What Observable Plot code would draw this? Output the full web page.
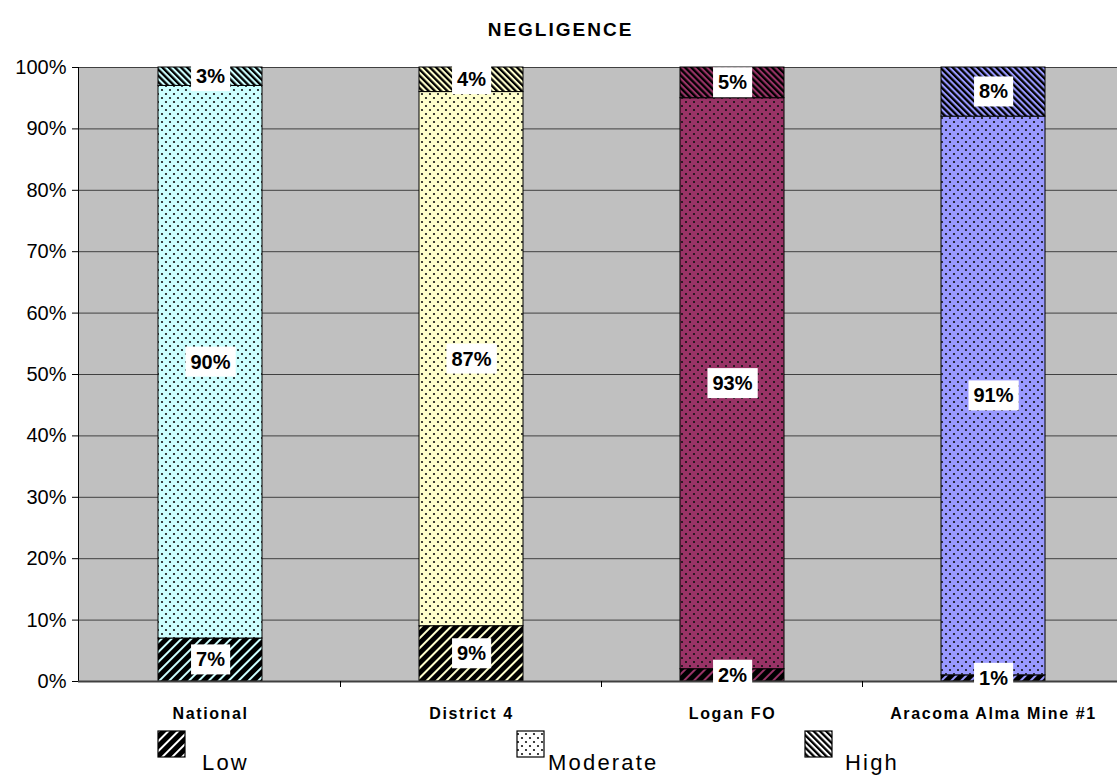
<!DOCTYPE html>
<html><head><meta charset="utf-8">
<script src="https://cdn.jsdelivr.net/npm/d3@7"></script>
<script src="https://cdn.jsdelivr.net/npm/@observablehq/plot@0.6"></script>
<style>
body{margin:0;background:#fff;font-family:"Liberation Sans",Arial,sans-serif;}
#wrap{position:relative;width:1117px;height:775px;overflow:hidden;}
#title{position:absolute;top:19px;left:2px;width:1117px;text-align:center;font-weight:bold;font-size:19px;letter-spacing:2px;}
#chart{position:absolute;top:0;left:0;}
</style></head><body>
<div id="wrap"><div id="chart"></div><div id="title">NEGLIGENCE</div></div>
<script>
const categories = ["National", "District 4", "Logan FO", "Aracoma Alma Mine #1"];
const levels = ["Low", "Moderate", "High"];
const lowValues = [7, 9, 2, 1];
const moderateValues = [90, 87, 93, 91];
const highValues = [3, 4, 5, 8];
const barColors = ["#CCFFFF", "#FFFFCC", "#993366", "#9999FF"];
const yTicks = [0, 10, 20, 30, 40, 50, 60, 70, 80, 90, 100];

const seriesByLevel = {Low: lowValues, Moderate: moderateValues, High: highValues};
const rows = [];
categories.forEach((c, i) => {
  levels.forEach(l => rows.push({category: c, level: l, value: seriesByLevel[l][i], color: barColors[i]}));
});

const FONT = '"Liberation Sans", Arial, sans-serif';

const plot = Plot.plot({
  width: 1117, height: 775,
  marginTop: 67, marginBottom: 94, marginLeft: 78, marginRight: 0,
  style: {fontFamily: FONT, background: "transparent", color: "#000"},
  x: {domain: categories, range: [79, 1124], paddingInner: 0.6, paddingOuter: 0.3, align: 0.5, label: null},
  y: {domain: [0, 100], label: null},
  color: {type: "identity"},
  marks: [
    Plot.frame({fill: "#C0C0C0", stroke: "none"}),
    Plot.gridY(yTicks, {stroke: "#404040", strokeOpacity: 1, strokeWidth: 1}),
    Plot.barY(rows, Plot.stackY({x: "category", y: "value", fill: "color", stroke: "#000", strokeWidth: 1})),
    Plot.barY(rows, Plot.stackY({x: "category", y: "value", fill: d => `url(#pat-${d.level})`})),
    Plot.frame({anchor: "left", stroke: "#000", strokeWidth: 1}),
    Plot.ruleY([0], {stroke: "#404040", strokeWidth: 2}),
    Plot.axisY(yTicks, {tickFormat: d => d + "%", fontSize: 20, tickSize: 6, tickPadding: 6, stroke: "#000"}),
    Plot.axisX({tickSize: 0, tickPadding: 26, fontSize: 16, fontWeight: "bold"}),
    Plot.text(rows, Plot.stackY({x: "category", y: "value", text: d => d.value + "%", fontSize: 20, fontWeight: "bold", fill: "#000"}))
  ]
});
document.getElementById("chart").appendChild(plot);

const svg = d3.select(plot);
const defs = svg.insert("defs", ":first-child");
// Low: "/" thick black stripes
const pLow = defs.append("pattern").attr("id", "pat-Low").attr("patternUnits", "userSpaceOnUse")
  .attr("width", 7).attr("height", 7).attr("patternTransform", "rotate(45)");
pLow.append("rect").attr("width", 5).attr("height", 7).attr("fill", "#000");
// Moderate: staggered dots
const pMod = defs.append("pattern").attr("id", "pat-Moderate").attr("patternUnits", "userSpaceOnUse")
  .attr("width", 8).attr("height", 8);
pMod.append("circle").attr("cx", 2).attr("cy", 2).attr("r", 1.1).attr("fill", "#111");
pMod.append("circle").attr("cx", 6).attr("cy", 6).attr("r", 1.1).attr("fill", "#111");
// High: "\" denser stripes
const pHigh = defs.append("pattern").attr("id", "pat-High").attr("patternUnits", "userSpaceOnUse")
  .attr("width", 4.4).attr("height", 4.4).attr("patternTransform", "rotate(-45)");
pHigh.append("rect").attr("width", 2.3).attr("height", 4.4).attr("fill", "#000");

// classify texts
const allTexts = Array.from(plot.querySelectorAll("text"));
const isBold = t => {
  const g = t.closest("[font-weight]");
  return g && g.getAttribute("font-weight") === "bold";
};
// white boxes behind segment labels
allTexts.filter(t => isBold(t) && /%$/.test(t.textContent)).forEach(t => {
  const b = t.getBBox();
  const r = document.createElementNS("http://www.w3.org/2000/svg", "rect");
  const px = 5, py = 4;
  r.setAttribute("x", b.x - px); r.setAttribute("y", b.y - py);
  r.setAttribute("width", b.width + 2 * px); r.setAttribute("height", b.height + 2 * py);
  r.setAttribute("fill", "#fff");
  if (t.getAttribute("transform")) r.setAttribute("transform", t.getAttribute("transform"));
  t.parentNode.insertBefore(r, t);
});
// wider bold category labels like the original
allTexts.filter(t => isBold(t) && !/%$/.test(t.textContent)).forEach(t => {
  t.style.letterSpacing = "1.6px";
});

// band-boundary ticks on the x axis
const xs = plot.scale("x");
const yBase = plot.scale("y").apply(0);
const bw = xs.bandwidth;
for (let i = 1; i < categories.length; i++) {
  const xb = (xs.apply(categories[i - 1]) + bw + xs.apply(categories[i])) / 2;
  svg.append("line").attr("x1", xb).attr("x2", xb).attr("y1", yBase).attr("y2", yBase + 6)
    .attr("stroke", "#000").attr("stroke-width", 1);
}

// legend
const legendPos = {Low: [158, 202], Moderate: [517, 548], High: [805, 845]};
const lg = svg.append("g").attr("font-family", FONT).attr("text-anchor", "start");
levels.forEach(l => {
  const [sx, tx] = legendPos[l];
  lg.append("rect").attr("x", sx).attr("y", 731).attr("width", 27).attr("height", 26).attr("fill", "#fff");
  lg.append("rect").attr("x", sx).attr("y", 731).attr("width", 27).attr("height", 26)
    .attr("fill", `url(#pat-${l})`).attr("stroke", "#000").attr("stroke-width", 1.2);
  lg.append("text").attr("x", tx).attr("y", 770).attr("font-size", 22)
    .style("letter-spacing", "2.2px").attr("fill", "#000").text(l);
});
</script>
</body></html>
